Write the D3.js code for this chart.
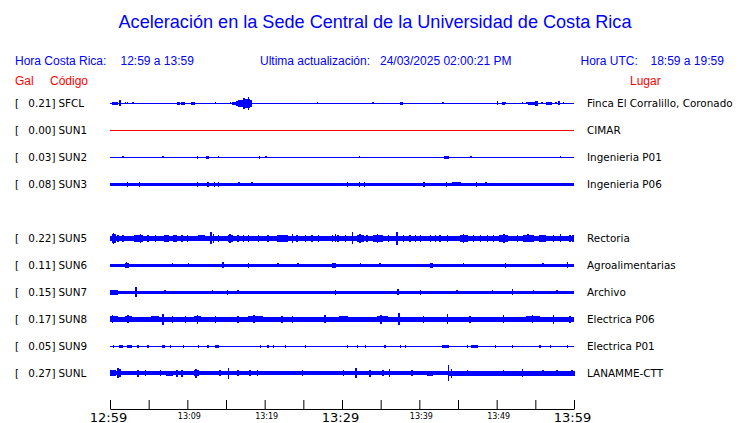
<!DOCTYPE html>
<html><head><meta charset="utf-8">
<script src="https://cdn.jsdelivr.net/npm/d3@7"></script>
<style>
body{margin:0;background:#fff;}
svg{display:block;}
</style></head>
<body><svg id="c" width="740" height="423"></svg>
<script>
// ---------- data ----------
const titleText = "Aceleración en la Sede Central de la Universidad de Costa Rica";
const codes  = ["SFCL","SUN1","SUN2","SUN3","SUN4","SUN5","SUN6","SUN7","SUN8","SUN9","SUNL"];
const pga    = [0.21, 0.00, 0.03, 0.08, null, 0.22, 0.11, 0.15, 0.17, 0.05, 0.27];
const places = ["Finca El Corralillo, Coronado","CIMAR","Ingenieria P01","Ingenieria P06",null,
                "Rectoria","Agroalimentarias","Archivo","Electrica P06","Electrica P01","LANAMME-CTT"];
// background noise amplitude (relative counts) per station
const baseAmp = [50, 50, 55, 165, null, 240, 135, 150, 230, 55, 185];
// bursts: [start minute, end minute, amplitude]  (minutes after 12:59)
const SFCL = [[0.26,1.03,150],[1.29,1.29,300],[1.94,1.94,100],[2.2,2.2,100],[2.46,2.46,80],[2.97,2.97,100],
  [8.79,9.05,120],[9.31,9.57,150],[10.6,10.99,150],[13.58,13.58,100],[15.52,15.52,100],[15.9,16.3,150],
  [16.3,16.81,250],[16.81,17.2,380],[17.2,17.59,430],[17.59,18.1,470],[17.3,17.3,520],[17.85,17.85,620],
  [16.6,16.6,330],[18.1,18.36,330],[26.77,26.77,100],[34.0,34.0,100],[37.5,37.76,150],[43.06,43.06,100],
  [50.05,50.17,200],[50.69,50.95,150],[51.08,51.08,100],[53.28,53.28,100],[53.92,53.92,100],[54.18,54.96,180],
  [54.96,55.22,260],[55.86,55.86,100],[56.38,57.03,180],[57.67,57.67,100],[58.06,58.06,200],[58.58,58.58,100]];
const SUN1 = [];
const SUN2 = [[1.68,1.68,100],[6.85,6.85,100],[11.25,11.25,150],[12.54,12.8,150],[13.97,13.97,100],
  [19.27,19.27,120],[20.17,20.17,100],[32.2,32.2,100],[32.85,32.85,80],[35.69,35.69,80],[43.19,43.71,170],
  [46.68,46.68,100],[58.19,58.19,100]];
const SUN3 = [[2.2,2.2,270],[3.75,3.75,270],[11.25,11.25,270],[12.67,12.67,250],[13.45,13.45,230],
  [13.97,13.97,270],[16.68,16.68,200],[18.36,18.36,200],[30.65,30.65,270],[32.2,32.2,250],[32.85,32.85,270],
  [40.6,40.6,270],[43.45,43.45,280],[44.23,45.26,200],[47.33,47.33,270],[48.62,48.62,200]];
const SUN5 = [[0.26,0.65,420],[0.4,0.4,560],[1.03,1.03,350],[1.68,1.68,320],[3.23,4.14,320],[3.9,3.9,480],
  [4.91,4.91,320],[5.82,5.82,350],[7.11,7.5,320],[8.15,8.66,320],[9.31,9.31,350],[9.96,9.96,320],
  [11.38,12.28,310],[13.06,13.06,600],[13.32,13.32,450],[13.97,13.97,320],[15.26,15.9,330],[15.5,15.5,450],
  [16.55,16.55,350],[17.2,17.2,320],[17.85,17.85,350],[19.14,19.14,320],[20.43,20.43,350],[21.6,22.89,320],
  [23.54,23.54,450],[24.18,24.18,320],[25.22,25.22,350],[26.12,26.12,320],[26.9,26.9,320],[28.71,28.71,350],
  [29.1,29.1,400],[29.48,29.48,320],[30.39,30.39,320],[31.3,31.3,600],[31.94,32.72,320],[32.3,32.3,420],
  [33.23,33.23,320],[34.01,35.3,320],[34.6,34.6,420],[35.95,35.95,320],[37.11,37.11,650],[37.89,37.89,320],
  [38.79,38.79,350],[39.44,39.44,320],[40.09,40.09,350],[41.38,41.38,350],[42.03,42.03,320],[42.67,42.67,350],
  [43.58,43.58,320],[45.26,46.17,330],[45.7,45.7,450],[46.94,46.94,320],[47.85,47.85,320],[48.75,48.75,350],
  [49.53,49.53,320],[50.43,51.34,320],[50.9,50.9,420],[52.63,52.63,320],[53.41,54.7,320],[54.0,54.0,400],
  [55.6,56.25,320],[57.29,57.29,320],[58.19,58.19,400],[59.48,59.48,350],[59.87,59.87,320]];
const SUN6 = [[1.94,2.33,230],[2.1,2.1,280],[8.02,8.02,200],[10.09,10.09,200],[14.61,14.61,300],[17.85,17.85,250],
  [21.72,21.72,200],[24.31,24.31,200],[28.71,29.1,230],[32.33,32.33,200],[34.91,34.91,200],[41.38,41.64,250],
  [45.65,45.65,200],[51.08,51.08,250],[55.99,55.99,200],[59.1,59.1,300]];
const SUN7 = [[0,1.03,230],[3.36,3.36,500],[7.11,7.11,200],[13.19,13.19,200],[15.13,15.13,250],[16.55,16.55,220],
  [29.1,29.1,250],[37.24,37.24,300],[40.09,40.09,250],[44.87,44.87,200],[49.4,49.4,200],[51.99,51.99,300],
  [54.7,54.7,200],[57.8,57.8,200]];
const SUN8 = [[0,0.91,320],[0.3,0.3,400],[1.94,2.84,310],[2.3,2.3,380],[5.43,6.21,310],[6.85,6.85,550],
  [8.02,8.02,350],[9.7,9.7,350],[10.99,11.64,320],[11.3,11.3,450],[13.58,13.58,350],[16.55,16.55,350],
  [17.85,19.66,310],[18.6,18.6,400],[22.24,22.24,350],[23.54,23.54,350],[27.8,27.8,400],[29.74,30.65,310],
  [34.53,35.82,320],[35.0,35.0,450],[37.37,37.37,600],[40.48,40.48,350],[43.58,43.58,500],[46.55,46.55,350],
  [50.82,50.82,400],[53.92,55.6,320],[54.6,54.6,400],[57.29,57.29,450],[59.48,59.48,350]];
const SUN9 = [[0.39,0.39,170],[1.29,1.68,170],[2.2,2.84,170],[3.62,3.62,170],[4.91,4.91,170],[6.85,7.11,170],
  [7.76,7.76,170],[9.44,9.44,170],[11.38,11.38,170],[12.67,12.67,170],[13.58,13.97,170],[19.4,19.4,170],
  [20.43,20.43,170],[21.08,21.08,170],[22.63,22.63,170],[25.22,25.22,170],[30.65,30.65,170],[31.94,31.94,170],
  [32.98,32.98,170],[35.56,35.56,170],[37.5,37.5,170],[38.15,38.15,170],[43.06,43.71,170],[46.17,46.17,170],
  [46.81,47.46,170],[49.79,49.79,170],[51.99,51.99,170],[55.6,55.6,170],[56.9,56.9,170],[59.1,59.1,170]];
const SUNL = [[0,0.65,280],[1.03,1.03,500],[1.29,1.29,380],[3.62,3.62,350],[4.53,4.53,300],[6.47,6.47,300],
  [7.37,8.02,260],[8.66,8.66,350],[9.31,9.31,350],[10.99,11.38,300],[11.1,11.1,450],[14.22,14.22,300],
  [15.26,15.26,550],[16.55,16.55,300],[18.1,18.1,300],[19.01,19.01,300],[24.83,24.83,300],[30.13,30.13,300],
  [31.81,31.81,500],[33.62,33.62,350],[35.3,35.3,300],[36.08,36.08,400],[39.05,39.05,300],[41.12,41.64,270],
  [43.71,60,225],[43.71,43.71,800],[44.1,44.1,450],[46.17,46.17,300],[50.82,50.82,300],[53.28,53.28,400],
  [55.99,55.99,300],[57.8,57.8,300],[59.74,59.74,300]];
const bursts = [SFCL, SUN1, SUN2, SUN3, null, SUN5, SUN6, SUN7, SUN8, SUN9, SUNL];
const traceColors = ["blue","red","blue","blue",null,"blue","blue","blue","blue","blue","blue"];
const tickMinutes = [0,5,10,15,20,25,30,35,40,45,50,55,60];
const tickLabels  = {0:"12:59",10:"13:09",20:"13:19",30:"13:29",40:"13:39",50:"13:49",60:"13:59"};
const bigTicks = [0,30,60];

// ---------- drawing ----------
const svg = d3.select("#c");
const BLUE = "#0000ff", RED = "#ff0000";
const x = d3.scaleLinear().domain([0,60]).range([110,574]);
const y = d3.scalePoint().domain(codes).range([103.3, 373.3]);
const amp = d3.scaleLinear().domain([0,1000]).range([0,10]);

svg.append("text").attr("x",375).attr("y",28).attr("text-anchor","middle")
  .attr("font-family","Liberation Sans, Arial, sans-serif").attr("font-size",18.1)
  .attr("fill",BLUE).text(titleText);

const hdr = svg.append("g").attr("font-family","Liberation Sans, Arial, sans-serif").attr("font-size",12).attr("fill",BLUE);
[["Hora Costa Rica:",15],["12:59 a 13:59",120.5],["Ultima actualización:",260],
 ["24/03/2025 02:00:21 PM",380],["Hora UTC:",580.5],["18:59 a 19:59",650.5]].forEach(d=>{
  hdr.append("text").attr("x",d[1]).attr("y",65).text(d[0]);
});
const hdr2 = svg.append("g").attr("font-family","Liberation Sans, Arial, sans-serif").attr("font-size",12).attr("fill",RED);
[["Gal",15],["Código",50],["Lugar",630]].forEach(d=>{
  hdr2.append("text").attr("x",d[1]).attr("y",85).text(d[0]);
});

const rows = svg.append("g").selectAll("g").data(codes.map((c,i)=>({c,i})).filter(d=>pga[d.i]!==null))
  .join("g").attr("transform",d=>`translate(0,${y(d.c)})`);

const lf = {"font-family":"DejaVu Sans, sans-serif","font-size":10.4,"fill":"#000"};
function applyFont(sel){ Object.entries(lf).forEach(([k,v])=>sel.attr(k,v)); return sel; }
applyFont(rows.append("text").attr("x",15).attr("y",3.8).text("["));
applyFont(rows.append("text").attr("x",55.5).attr("y",3.8).attr("text-anchor","end").text(d=>pga[d.i].toFixed(2)+"]"));
applyFont(rows.append("text").attr("x",58.5).attr("y",3.8).text(d=>d.c));
applyFont(rows.append("text").attr("x",587).attr("y",3.8).text(d=>places[d.i]));

rows.each(function(d){
  const g = d3.select(this).append("g").attr("shape-rendering","crispEdges")
    .attr("fill", traceColors[d.i]==="red"?RED:BLUE);
  const b = Math.max(0.5, amp(baseAmp[d.i]));
  g.append("rect").attr("x",x(0)).attr("width",x(60)-x(0)).attr("y",-b).attr("height",2*b);
  g.selectAll("rect.ev").data(bursts[d.i]).join("rect").attr("class","ev")
    .attr("x",e=>x(e[0])-0.5).attr("width",e=>Math.max(1.4,x(e[1])-x(e[0])+1))
    .attr("y",e=>-amp(e[2])).attr("height",e=>2*amp(e[2]));
});

// time axis
const ax = d3.axisBottom(x).tickValues(tickMinutes).tickSize(-9).tickSizeOuter(0)
  .tickFormat(m=>tickLabels[m]||"");
const axg = svg.append("g").attr("transform","translate(0,409)").call(ax);
axg.select(".domain").attr("stroke","#000");
axg.selectAll(".tick line").attr("stroke","#000");
axg.selectAll(".tick text").attr("font-family","DejaVu Sans, sans-serif").attr("fill","#000")
  .attr("dy",0)
  .attr("x",m=>bigTicks.includes(m)?-2:1.5)
  .attr("y",m=>bigTicks.includes(m)?12.5:9.5)
  .attr("font-size",m=>bigTicks.includes(m)?13:8);
</script>
</body></html>
